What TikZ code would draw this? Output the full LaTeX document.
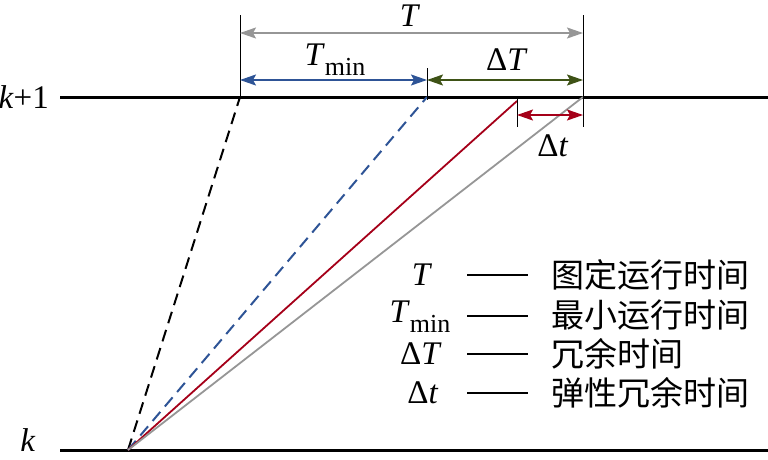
\documentclass[tikz,border=0pt]{standalone}
\usepackage{fontspec}
\setmainfont{Liberation Serif}
\newfontfamily\cjk{Noto Sans CJK SC}
\usetikzlibrary{arrows.meta}
\definecolor{cgray}{RGB}{150,150,150}
\definecolor{cblue}{RGB}{46,84,150}
\definecolor{cgreen}{RGB}{62,82,22}
\definecolor{cred}{RGB}{165,0,25}
\newcommand{\minsub}{\raisebox{-0.3em}{\fontsize{26}{30}\selectfont min}}
\begin{document}
\begin{tikzpicture}[x=1pt,y=-1pt,
  lbl/.style={inner sep=0pt,font=\fontsize{33}{38}\selectfont},
  cn/.style={inner sep=0pt,anchor=west,font=\cjk\fontsize{33}{38}\selectfont},
  base/.style={line width=3pt},
  tick/.style={line width=1pt},
  dim/.style={line width=1.6pt,{Stealth[length=16pt,width=11pt,inset=3pt]}-{Stealth[length=16pt,width=11pt,inset=3pt]}},
  dsh/.style={line width=2pt,dash pattern=on 12pt off 7pt},
  leg/.style={line width=1.3pt}]
\useasboundingbox (0,0) rectangle (768,459);
% base lines
\coordinate (TL) at (60,97);
\coordinate (TR) at (768,97);
\coordinate (BL) at (60,450);
\coordinate (BR) at (768,450);
\draw[base] (TL) -- (TR);
\draw[base] (BL) -- (BR);
\node[lbl,anchor=east] (kp) at (49,97) {\textit{k}+1};
\node[lbl] (k) at (28,440) {\textit{k}};
% points
\coordinate (O) at (128,450);
\coordinate (A) at (240,97);
\coordinate (B) at (427,97);
\coordinate (C) at (517,101);
\coordinate (D) at (583,97);
\draw[dsh,black] (O) -- (A);
\draw[dsh,cblue] (O) -- (B);
\draw[line width=1.8pt,cred] (O) -- (C);
\draw[line width=1.8pt,cgray] (O) -- (D);
% ticks
\coordinate (A1) at (240,15);
\coordinate (D1) at (583,15);
\coordinate (D2) at (583,127);
\coordinate (B1) at (427,68);
\coordinate (B2) at (427,100);
\coordinate (C1) at (517,97);
\coordinate (C2) at (517,127);
\draw[tick] (A1) -- (A);
\draw[tick] (D1) -- (D2);
\draw[tick] (B1) -- (B2);
\draw[tick] (C1) -- (C2);
% dimension arrows
\coordinate (T1) at (240,33);
\coordinate (T2) at (583,33);
\coordinate (M1) at (240,80);
\coordinate (M2) at (427,80);
\coordinate (M3) at (583,80);
\coordinate (S1) at (517,115);
\coordinate (S2) at (583,115);
\draw[dim,cgray] (T1) -- (T2);
\draw[dim,cblue] (M1) -- (M2);
\draw[dim,cgreen] (M2) -- (M3);
\draw[dim,cred] (S1) -- (S2);
\node[lbl] (lT) at (410,16) {\textit{T}};
\node[lbl] (lTm) at (335,60) {\textit{T}\minsub};
\node[lbl] (lDT) at (507,60) {Δ\textit{T}};
\node[lbl] (lDt) at (553,146) {Δ\textit{t}};
% legend
\node[lbl] (g1) at (422,275) {\textit{T}};
\node[lbl] (g2) at (420,317) {\textit{T}\minsub};
\node[lbl] (g3) at (421,354) {Δ\textit{T}};
\node[lbl] (g4) at (423,393) {Δ\textit{t}};
\foreach \y/\n in {275/1,316/2,354/3,393/4}{
  \coordinate (h\n a) at (467,\y);
  \coordinate (h\n b) at (528,\y);
  \draw[leg] (h\n a) -- (h\n b);
}
\node[cn] (c1) at (551,275) {图定运行时间};
\node[cn] (c2) at (551,315) {最小运行时间};
\node[cn] (c3) at (551,354) {冗余时间};
\node[cn] (c4) at (551,393) {弹性冗余时间};
\end{tikzpicture}
\end{document}
